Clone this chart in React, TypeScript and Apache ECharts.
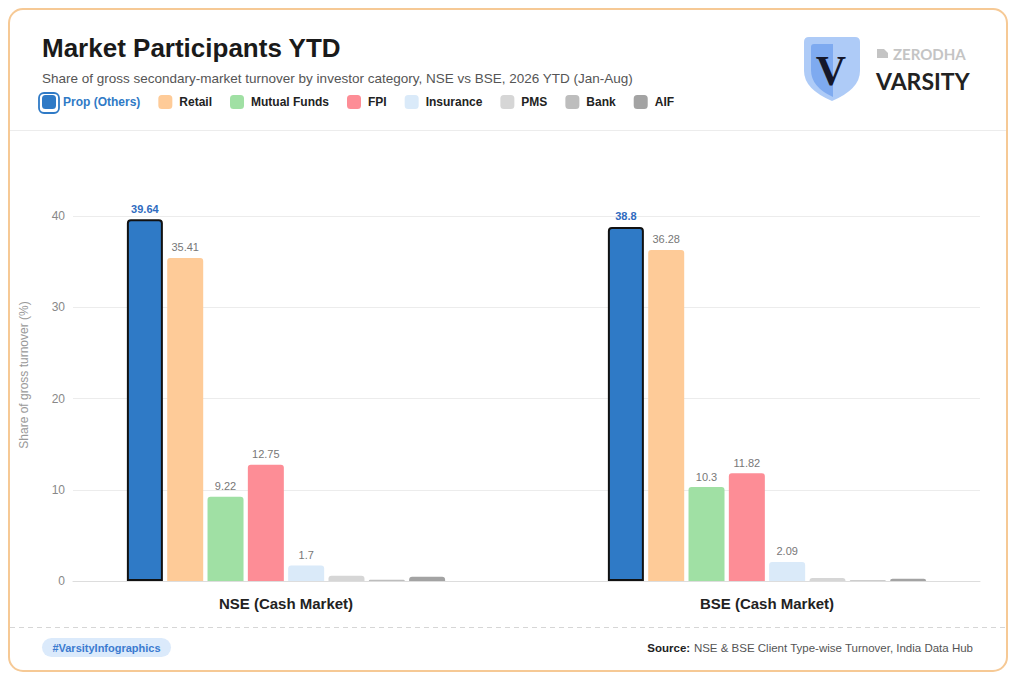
import React, { useEffect, useRef } from "react";
import * as echarts from "echarts";

const categories = ["NSE (Cash Market)", "BSE (Cash Market)"];
const seriesNames = ["Prop (Others)", "Retail", "Mutual Funds", "FPI", "Insurance", "PMS", "Bank", "AIF"];
const nseValues = [39.64, 35.41, 9.22, 12.75, 1.7, 0.58, 0.15, 0.46];
const bseValues = [38.8, 36.28, 10.3, 11.82, 2.09, 0.33, 0.09, 0.26];
const colors = ["#2f7ac6", "#fecb98", "#a0e0a4", "#fd8d96", "#daeaf9", "#d6d6d6", "#bdbdbd", "#a3a3a3"];
const yTickMin = 0;
const yTickMax = 40;
const yTickInterval = 10;

const FONT = "'Liberation Sans', Arial, sans-serif";

const SHIELD_OUTER = "M5 0 L51 0 Q56 0 56 5 L56 34 Q56 52 28 64 Q0 52 0 34 L0 5 Q0 0 5 0 Z";
const SHIELD_INNER = "M10 7 L29 7 L29 60 Q7 50 7 33 L7 10 Q7 7 10 7 Z";
const ZERODHA_ICON = "M0 0 L7 0 L11 4 L11 9 L0 9 Z";

let registered = false;
function registerShapes() {
  if (registered) return;
  registered = true;
  echarts.graphic.registerShape("shieldOuter", echarts.graphic.extendPath(SHIELD_OUTER, {}));
  echarts.graphic.registerShape("shieldInner", echarts.graphic.extendPath(SHIELD_INNER, {}));
  echarts.graphic.registerShape("zIcon", echarts.graphic.extendPath(ZERODHA_ICON, {}));
}

export default function App() {
  const ref = useRef<HTMLDivElement>(null);
  useEffect(() => {
    if (!ref.current) return;
    registerShapes();
    const chart = echarts.init(ref.current, undefined, { renderer: "svg" });

    const series = seriesNames.map((name, i) => {
      const isProp = i === 0;
      return {
        name,
        type: "bar",
        xAxisIndex: 1,
        yAxisIndex: 1,
        data: [nseValues[i], bseValues[i]],
        barWidth: 36,
        barGap: "12%",
        itemStyle: {
          color: colors[i],
          borderRadius: [3, 3, 0, 0],
          borderColor: isProp ? "#111111" : undefined,
          borderWidth: isProp ? 2 : 0,
        },
        label: {
          show: true,
          position: "top",
          distance: 5,
          fontFamily: FONT,
          fontSize: 11,
          fontWeight: isProp ? "bold" : "normal",
          color: isProp ? "#2f6bc0" : "#777777",
          formatter: (p: any) => (p.value >= 1 ? String(p.value) : ""),
        },
      };
    });

    const option: any = {
      animation: false,
      backgroundColor: "#ffffff",
      textStyle: { fontFamily: FONT },
      legend: {
        left: 42,
        top: 95,
        padding: 0,
        itemWidth: 14,
        itemHeight: 14,
        itemGap: 18,
        icon: "roundRect",
        itemStyle: { borderWidth: 0 },
        textStyle: { fontFamily: FONT, fontSize: 12, fontWeight: "bold", color: "#222222", padding: [0, 0, 0, 2] },
        data: seriesNames.map((n, i) =>
          i === 0 ? { name: n, textStyle: { color: "#2f7ac6" } } : { name: n }
        ),
      },
      grid: [
        { left: 73, right: 36, top: 216, bottom: 98 },
        { left: 45.5, right: 8.5, top: 216, bottom: 98 },
      ],
      xAxis: [
        {
          type: "category",
          gridIndex: 0,
          data: categories,
          axisLine: { show: true, lineStyle: { color: "#dddddd" } },
          axisTick: { show: false },
          axisLabel: { show: false },
          splitLine: { show: false },
        },
        {
          type: "category",
          gridIndex: 1,
          data: categories,
          axisLine: { show: false },
          axisTick: { show: false },
          axisLabel: { show: true, margin: 15, fontFamily: FONT, fontSize: 15, fontWeight: "bold", color: "#222222" },
          splitLine: { show: false },
        },
      ],
      yAxis: [
        {
          type: "value",
          gridIndex: 0,
          min: yTickMin,
          max: yTickMax,
          interval: yTickInterval,
          axisLine: { show: false },
          axisTick: { show: false },
          axisLabel: { margin: 8, fontFamily: FONT, fontSize: 12, color: "#888888" },
          splitLine: { lineStyle: { color: "#ececec" } },
        },
        {
          type: "value",
          gridIndex: 1,
          min: yTickMin,
          max: yTickMax,
          interval: yTickInterval,
          show: false,
          splitLine: { show: false },
        },
      ],
      series,
      graphic: [
        {
          type: "rect",
          shape: { x: 9, y: 9, width: 998, height: 662, r: 14 },
          style: { fill: "none", stroke: "#f6c995", lineWidth: 2 },
          silent: true,
        },
        {
          type: "line",
          shape: { x1: 10, y1: 130.5, x2: 1006, y2: 130.5 },
          style: { stroke: "#ececec", lineWidth: 1 },
          silent: true,
        },
        {
          type: "line",
          shape: { x1: 10, y1: 627.5, x2: 1006, y2: 627.5 },
          style: { stroke: "#d6d6d6", lineWidth: 1.2, lineDash: [5, 4] },
          silent: true,
        },
        {
          type: "text",
          x: 42,
          y: 48,
          style: { text: "Market Participants YTD", fontFamily: FONT, fontSize: 26, fontWeight: "bold", fill: "#1a1a1a", verticalAlign: "middle" },
        },
        {
          type: "text",
          x: 42,
          y: 78,
          style: {
            text: "Share of gross secondary-market turnover by investor category, NSE vs BSE, 2026 YTD (Jan-Aug)",
            fontFamily: FONT,
            fontSize: 13.5,
            fill: "#555555",
            verticalAlign: "middle",
          },
        },
        {
          type: "rect",
          shape: { x: 39, y: 93, width: 20, height: 20, r: 5 },
          style: { fill: "none", stroke: "#2f7ac6", lineWidth: 1.8 },
          silent: true,
        },
        {
          type: "text",
          x: 24,
          y: 375,
          rotation: Math.PI / 2,
          style: {
            text: "Share of gross turnover (%)",
            fontFamily: FONT,
            fontSize: 12,
            fill: "#999999",
            align: "center",
            verticalAlign: "middle",
          },
        },
        { type: "shieldOuter", x: 804, y: 37, style: { fill: "#aecbf7" }, silent: true },
        { type: "shieldInner", x: 804, y: 37, style: { fill: "#7eaaf0" }, silent: true },
        {
          type: "text",
          x: 831,
          y: 71,
          style: { text: "V", fontFamily: "'Liberation Serif', 'DejaVu Serif', serif", fontSize: 42, fontWeight: "bold", fill: "#15172a", align: "center", verticalAlign: "middle" },
        },
        { type: "zIcon", x: 877, y: 49, style: { fill: "#c4c4c4" }, silent: true },
        {
          type: "text",
          x: 893,
          y: 54,
          style: { text: "ZERODHA", fontFamily: "Lato, 'Open Sans', sans-serif", fontSize: 15, fontWeight: "bold", fill: "#c4c4c4", verticalAlign: "middle" },
        },
        {
          type: "text",
          x: 876,
          y: 81,
          style: { text: "VARSITY", fontFamily: "Lato, 'Open Sans', sans-serif", fontSize: 23, fontWeight: "bold", fill: "#222222", verticalAlign: "middle" },
        },
        {
          type: "rect",
          shape: { x: 42, y: 638, width: 129, height: 19, r: 9.5 },
          style: { fill: "#dbeafb" },
          silent: true,
        },
        {
          type: "text",
          x: 106.5,
          y: 647.5,
          style: { text: "#VarsityInfographics", fontFamily: FONT, fontSize: 11, fontWeight: "bold", fill: "#3b7bd0", align: "center", verticalAlign: "middle" },
        },
        {
          type: "text",
          x: 973,
          y: 647.5,
          style: {
            text: "{b|Source:} {n|NSE & BSE Client Type-wise Turnover, India Data Hub}",
            align: "right",
            verticalAlign: "middle",
            rich: {
              b: { fontFamily: FONT, fontSize: 11.5, fontWeight: "bold", fill: "#222222", color: "#222222" },
              n: { fontFamily: FONT, fontSize: 11.5, fill: "#555555", color: "#555555" },
            },
          },
        },
      ],
    };

    chart.setOption(option);
    return () => chart.dispose();
  }, []);

  return (
    <div
      ref={ref}
      style={{ position: "fixed", left: 0, top: 0, width: 1016, height: 679, background: "#ffffff" }}
    />
  );
}
